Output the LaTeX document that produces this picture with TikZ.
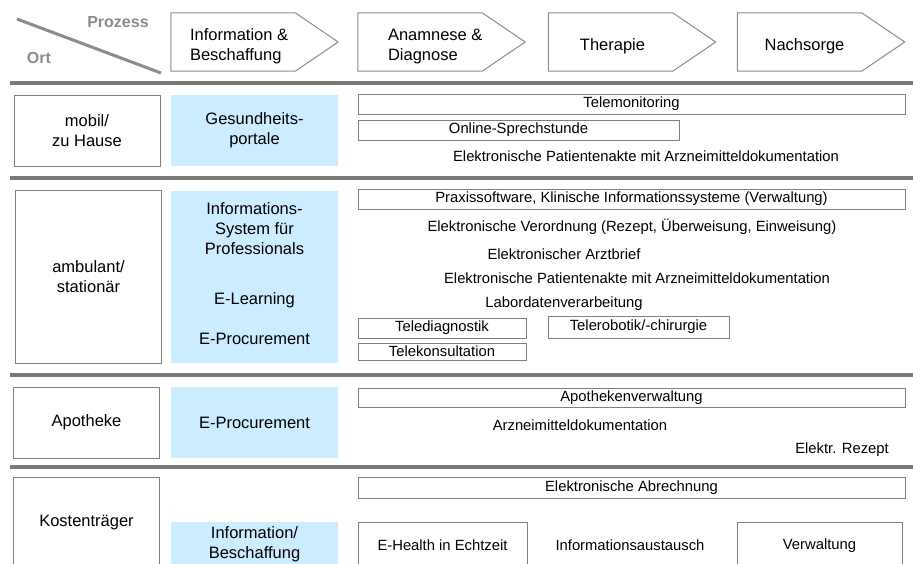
\documentclass[tikz,border=0pt]{standalone}
\usepackage{fontspec}
\setmainfont{Liberation Sans}
\definecolor{linegray}{RGB}{128,128,128}
\definecolor{sepgray}{RGB}{122,122,122}
\definecolor{headgray}{RGB}{140,140,140}
\definecolor{portalblue}{RGB}{204,236,255}

\begin{document}
\begin{tikzpicture}[x=1pt, y=-1pt,
    big/.style={font=\fontsize{16.5}{20}\selectfont, inner sep=0pt},
    small/.style={font=\fontsize{14.8}{17}\selectfont, inner sep=0pt},
    ort/.style={big, draw=linegray, line width=1pt, minimum width=146pt, align=center},
    dienst/.style={big, fill=portalblue, minimum width=167pt, align=center},
    balken/.style={small, draw=linegray, line width=1pt, minimum height=20pt},
    frei/.style={small},
    prozess/.style={minimum width=124pt, minimum height=58pt, inner sep=0pt},
    pfeil/.style={draw=headgray, line width=1pt},
    trenner/.style={sepgray, line width=4pt}]

    \useasboundingbox (0,0) rectangle (913,563);
    \clip (0,0) rectangle (913,563);

    % Header: Ort / Prozess
    \draw[headgray, line width=3pt] (17,19) -- (161,73);
    \node[font=\fontsize{16}{20}\selectfont\bfseries, text=headgray, inner sep=0pt] (prozess) at (118,22) {Prozess};
    \node[font=\fontsize{16}{20}\selectfont\bfseries, text=headgray, inner sep=0pt] (ort) at (39,58) {Ort};

    % Process chain
    \node[prozess] (p1) at (233,42) {};
    \node[prozess] (p2) at (420,42) {};
    \node[prozess] (p3) at (610.5,42) {};
    \node[prozess] (p4) at (799.5,42) {};
    \foreach \p in {p1,p2,p3,p4}
        \draw[pfeil] (\p.north west) -- (\p.north east) -- ([xshift=43pt]\p.east)
            -- (\p.south east) -- (\p.south west) -- cycle;
    \node[big, align=left, anchor=west] (t1) at ([xshift=19pt, yshift=-4pt]p1.west) {Information \&\\Beschaffung};
    \node[big, align=left, anchor=west] (t2) at ([xshift=30pt, yshift=-4pt]p2.west) {Anamnese \&\\Diagnose};
    \node[big] (t3) at ([xshift=2pt, yshift=-4pt]p3.center) {Therapie};
    \node[big] (t4) at ([xshift=5pt, yshift=-4pt]p4.center) {Nachsorge};

    % Separators
    \draw[trenner] (10,83) -- (913,83);
    \draw[trenner] (10,178) -- (913,178);
    \draw[trenner] (10,375) -- (913,375);
    \draw[trenner] (10,467) -- (913,467);

    % mobil / zu Hause
    \node[ort, minimum height=71pt] (mobil) at (87,130.5) {mobil/\\zu Hause};
    \node[dienst, minimum height=71pt] (portale) at (254.5,130.5) {Gesundheits-\\portale};
    \node[balken, minimum width=547pt] (telemon) at (631.5,104) {Telemonitoring};
    \node[balken, minimum width=321pt] (online) at (518.5,130) {Online-Sprechstunde};
    \node[frei] (epa1) at (646,156) {Elektronische Patientenakte mit Arzneimitteldokumentation};

    % ambulant / stationaer
    \node[ort, minimum height=173pt] (ambulant) at (88.5,276.5) {ambulant/\\stationär};
    \node[dienst, minimum height=172pt] (isp) at (254.5,277) {};
    \node[big, align=center] (infosys) at (254.5,229) {Informations-\\System für\\Professionals};
    \node[big] (elearn) at (254.5,300) {E-Learning};
    \node[big] (eproc1) at (254.5,339) {E-Procurement};
    \node[balken, minimum width=547pt] (praxis) at (631.5,199) {Praxissoftware, Klinische Informationssysteme (Verwaltung)};
    \node[frei] (verordnung) at (632,227) {Elektronische Verordnung (Rezept, Überweisung, Einweisung)};
    \node[frei] (arztbrief) at (564,254) {Elektronischer Arztbrief};
    \node[frei] (epa2) at (637,278) {Elektronische Patientenakte mit Arzneimitteldokumentation};
    \node[frei] (labor) at (564,304) {Labordatenverarbeitung};
    \node[balken, minimum width=168pt] (telediag) at (442,328) {Telediagnostik};
    \node[balken, minimum width=168pt, minimum height=17pt] (telekons) at (442,351.5) {Telekonsultation};
    \node[balken, minimum width=181pt, minimum height=22pt] (telerob) at (638.5,327) {Telerobotik/-chirurgie};

    % Apotheke
    \node[ort, minimum height=71pt] (apotheke) at (86.5,422.5) {Apotheke};
    \node[dienst, minimum height=71pt] (eproc2) at (254.5,422.5) {E-Procurement};
    \node[balken, minimum width=547pt, minimum height=19pt] (apoverw) at (631.5,397.5) {Apothekenverwaltung};
    \node[frei] (arznei) at (580,425) {Arzneimitteldokumentation};
    \node[frei] (rezept) at (842,450) {Elektr. Rezept};

    % Kostentraeger
    \node[ort, minimum height=90pt, anchor=north] (kosten) at (86.5,477) {Kostenträger};
    \node[dienst, minimum height=44pt, anchor=north] (infobesch) at (254.5,522) {Information/\\Beschaffung};
    \node[balken, minimum width=547pt, minimum height=21pt, anchor=north] (abrechnung) at (631.5,477) {Elektronische Abrechnung};
    \node[balken, minimum width=169pt, minimum height=46pt, anchor=north] (echtzeit) at (442.5,522) {E-Health in Echtzeit};
    \node[frei] (austausch) at (630,545) {Informationsaustausch};
    \node[balken, minimum width=165pt, minimum height=46pt, anchor=north] (verwaltung) at (819.5,522) {Verwaltung};
\end{tikzpicture}
\end{document}
